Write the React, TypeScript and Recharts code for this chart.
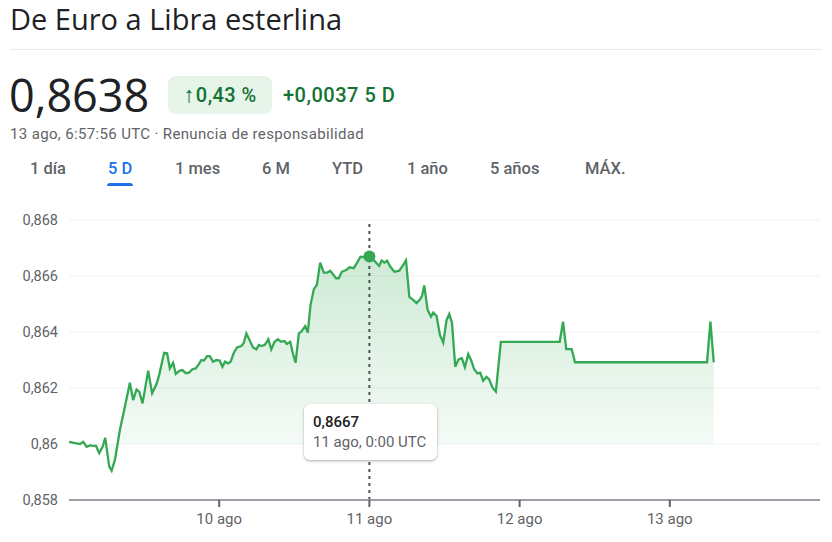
import React from "react";
import {
  ComposedChart,
  Area,
  XAxis,
  YAxis,
  CartesianGrid,
  ReferenceLine,
  ReferenceDot,
} from "recharts";

// hours since 9 ago 0:00 UTC
const hours = [
  0.0, 0.96, 1.75, 2.28, 2.82, 3.35, 3.88, 4.31, 4.83, 5.37, 5.79, 6.43, 6.81, 7.34, 8.13, 8.93, 9.73, 10.25,
  10.8, 11.21, 11.75, 12.65, 13.28, 13.99, 14.4, 15.2, 15.68, 16.11, 16.63, 17.06, 17.7, 18.13, 18.66, 19.18,
  19.73, 20.25, 20.78, 21.16, 21.58, 22.05, 22.49, 23.01, 23.55, 24.08, 24.51, 24.93, 25.4, 25.83, 26.31, 26.84,
  27.54, 27.91, 28.34, 28.86, 29.39, 29.93, 30.35, 30.78, 31.3, 31.85, 32.32, 32.85, 33.38, 33.92, 34.45, 34.81,
  35.35, 35.77, 36.2, 36.73, 37.11, 37.75, 38.16, 38.59, 39.12, 39.6, 40.14, 40.71, 41.26, 41.73, 42.15, 42.69,
  43.1, 43.58, 44.28, 44.81, 45.5, 46.04, 46.57, 47.2, 48.0, 48.53, 49.07, 49.55, 49.96, 50.39, 50.82, 51.35,
  51.99, 52.78, 53.31, 53.85, 54.38, 55.07, 55.54, 56.13, 56.41, 56.77, 57.3, 57.84, 58.21, 58.73, 59.28, 59.8,
  60.33, 60.76, 61.19, 61.72, 62.24, 62.78, 63.26, 63.79, 64.22, 64.74, 65.27, 65.7, 66.18, 66.71, 67.14, 67.66,
  68.21, 69.0, 78.41, 78.94, 79.46, 80.32, 80.85, 101.95, 102.49, 103.02,
];

const rates = [
  0.86008, 0.86003, 0.86, 0.86008, 0.8599, 0.85995, 0.85993, 0.85993, 0.85967, 0.8599, 0.86022, 0.85919, 0.85905,
  0.85943, 0.8605, 0.86133, 0.86219, 0.86157, 0.86195, 0.86187, 0.86145, 0.86262, 0.86181, 0.86214, 0.86246,
  0.86326, 0.86324, 0.8627, 0.8629, 0.8625, 0.86262, 0.86264, 0.86253, 0.86255, 0.86267, 0.8627, 0.86286, 0.863,
  0.86298, 0.86314, 0.86314, 0.86294, 0.863, 0.86298, 0.86276, 0.86294, 0.86288, 0.86294, 0.86324, 0.86345,
  0.8635, 0.8636, 0.86395, 0.86371, 0.86345, 0.86338, 0.86354, 0.8635, 0.86354, 0.86374, 0.86338, 0.86365,
  0.86374, 0.86365, 0.86368, 0.86357, 0.86365, 0.86324, 0.8629, 0.86395, 0.86401, 0.86421, 0.86398, 0.86496,
  0.86553, 0.86568, 0.86648, 0.86612, 0.86612, 0.86619, 0.86607, 0.86592, 0.86592, 0.86615, 0.86621, 0.86631,
  0.86628, 0.86648, 0.86669, 0.86667, 0.8667, 0.8666, 0.86648, 0.86636, 0.86655, 0.86648, 0.86655, 0.86633,
  0.86615, 0.86619, 0.86636, 0.86656, 0.86525, 0.86513, 0.86503, 0.86518, 0.86529, 0.86566, 0.86479, 0.86455,
  0.86469, 0.86457, 0.86389, 0.86362, 0.86443, 0.86464, 0.86433, 0.86276, 0.86302, 0.86306, 0.86274, 0.86321,
  0.86302, 0.86267, 0.86252, 0.86255, 0.86226, 0.8624, 0.86231, 0.86202, 0.86187, 0.86365, 0.86365, 0.86437,
  0.86339, 0.86339, 0.86292, 0.86292, 0.86437, 0.86292,
];

const xTicks = [24, 48, 72, 96];
const xTickLabels = ["10 ago", "11 ago", "12 ago", "13 ago"];
const yTicks = [0.858, 0.86, 0.862, 0.864, 0.866, 0.868];
const yTickLabels = ["0,858", "0,86", "0,862", "0,864", "0,866", "0,868"];
const rangeTabs = ["1 día", "5 D", "1 mes", "6 M", "YTD", "1 año", "5 años", "MÁX."];
const activeTab = "5 D";
const highlightIndex = 90;
const startDay = 9;

const data = hours.map((h, i) => ({ h, v: rates[i] }));

const GREEN = "#34a853";
const GREY = "#5f6368";
const FONT = "Roboto, 'Open Sans', sans-serif";

const fmtRate = (v: number) => v.toFixed(4).replace(".", ",");
const fmtTime = (h: number) => {
  const day = startDay + Math.floor(h / 24);
  const hh = Math.floor(h % 24);
  const mm = Math.round((h % 1) * 60);
  return `${day} ago, ${hh}:${String(mm).padStart(2, "0")} UTC`;
};

const tabLefts = [30, 108, 175, 262, 332, 407, 490, 585];

export default function App() {
  const hp = data[highlightIndex];
  return (
    <div
      style={{
        position: "absolute",
        left: 0,
        top: 0,
        width: 832,
        height: 542,
        background: "#fff",
        fontFamily: FONT,
        overflow: "hidden",
      }}
    >
      <div
        style={{
          position: "absolute",
          left: 10,
          top: -1,
          fontSize: 29,
          lineHeight: "40px",
          color: "#202124",
          fontFamily: "'Open Sans', Roboto, sans-serif",
        }}
      >
        De Euro a Libra esterlina
      </div>
      <div
        style={{ position: "absolute", left: 10, top: 49, width: 812, height: 1, background: "#e8eaed" }}
      />
      <div
        style={{
          position: "absolute",
          left: 9,
          top: 68,
          fontSize: 45,
          lineHeight: "54px",
          color: "#202124",
          fontFamily: "'Open Sans', Roboto, sans-serif",
        }}
      >
        0,8638
      </div>
      <div
        style={{
          position: "absolute",
          left: 168,
          top: 76,
          width: 104,
          height: 38,
          borderRadius: 8,
          background: "#e6f4ea",
          color: "#137333",
          fontSize: 20,
          lineHeight: "38px",
          textAlign: "center",
          fontWeight: 500,
          letterSpacing: 0.4,
        }}
      >
        <span style={{ fontSize: 22, marginRight: 1 }}>↑</span>0,43 %
      </div>
      <div
        style={{
          position: "absolute",
          left: 283,
          top: 76,
          fontSize: 20,
          lineHeight: "38px",
          color: "#137333",
          fontWeight: 500,
          letterSpacing: 0.5,
        }}
      >
        +0,0037 5 D
      </div>
      <div
        style={{
          position: "absolute",
          left: 10,
          top: 125,
          fontSize: 15,
          lineHeight: "18px",
          color: GREY,
          letterSpacing: 0.35,
        }}
      >
        13 ago, 6:57:56 UTC · Renuncia de responsabilidad
      </div>
      {rangeTabs.map((t, i) => (
        <div
          key={t}
          style={{
            position: "absolute",
            left: tabLefts[i],
            top: 158,
            fontSize: 16.5,
            lineHeight: "22px",
            color: t === activeTab ? "#1a73e8" : GREY,
            fontWeight: 500,
          }}
        >
          {t}
          {t === activeTab && (
            <div
              style={{
                position: "absolute",
                left: -1,
                right: -1,
                top: 25,
                height: 3,
                borderRadius: "3px 3px 0 0",
                background: "#1a73e8",
              }}
            />
          )}
        </div>
      ))}
      <div style={{ position: "absolute", left: 0, top: 190 }}>
        <ComposedChart
          width={832}
          height={352}
          data={data}
          margin={{ top: 30, right: 12, bottom: 12, left: 0 }}
        >
          <defs>
            <linearGradient id="fillG" x1="0" y1="0" x2="0" y2="1">
              <stop offset="0%" stopColor={GREEN} stopOpacity={0.4} />
              <stop offset="100%" stopColor={GREEN} stopOpacity={0.04} />
            </linearGradient>
          </defs>
          <CartesianGrid vertical={false} stroke="#f1f3f4" strokeWidth={1} />
          <XAxis
            dataKey="h"
            type="number"
            domain={[0, 120]}
            ticks={xTicks}
            tickFormatter={(v: number) => xTickLabels[xTicks.indexOf(v)]}
            axisLine={{ stroke: "#9aa0a6", strokeWidth: 2 }}
            tickLine={{ stroke: GREY, strokeWidth: 2 }}
            tickSize={7}
            tickMargin={6}
            height={30}
            tick={{ fill: GREY, fontSize: 15, fontFamily: FONT }}
          />
          <YAxis
            type="number"
            domain={[0.858, 0.868]}
            ticks={yTicks}
            tickFormatter={(v: number) => yTickLabels[yTicks.indexOf(v)]}
            axisLine={false}
            tickLine={false}
            width={69}
            tickMargin={5}
            tick={{ fill: GREY, fontSize: 14.5, fontFamily: FONT }}
          />
          <ReferenceLine x={hp.h} stroke="#4d5156" strokeWidth={2} strokeDasharray="3 4" />
          <Area
            type="linear"
            dataKey="v"
            stroke={GREEN}
            strokeWidth={2.3}
            fill="url(#fillG)"
            baseValue={0.86}
            dot={false}
            activeDot={false}
            isAnimationActive={false}
          />
          <ReferenceDot x={hp.h} y={hp.v} r={6} fill={GREEN} stroke="none" />
        </ComposedChart>
      </div>
      <div
        style={{
          position: "absolute",
          left: 304,
          top: 404,
          width: 133,
          height: 56,
          background: "#fff",
          borderRadius: 6,
          boxShadow: "0 1px 3px rgba(60,64,67,0.3), 0 1px 2px rgba(60,64,67,0.15)",
          boxSizing: "border-box",
          padding: "8px 9px",
          fontSize: 15,
        }}
      >
        <div style={{ color: "#202124", fontWeight: 500, lineHeight: "20px" }}>{fmtRate(hp.v)}</div>
        <div style={{ color: GREY, lineHeight: "20px" }}>{fmtTime(hp.h)}</div>
      </div>
    </div>
  );
}
